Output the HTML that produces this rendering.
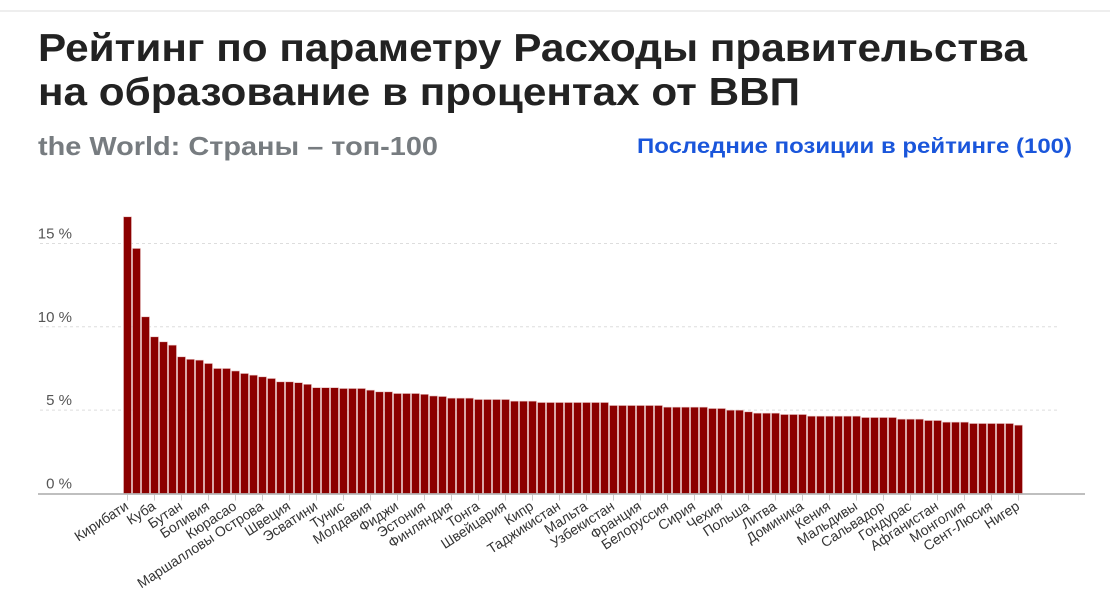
<!DOCTYPE html>
<html><head><meta charset="utf-8"><style>
html,body{margin:0;padding:0;background:#fff;}
svg{display:block;font-family:"Liberation Sans",sans-serif;}
</style></head><body>
<svg id="chart" width="1110" height="607" viewBox="0 0 1110 607">
<line x1="0" y1="11" x2="1110" y2="11" stroke="#eee" stroke-width="2"/>
<text x="38" y="61" font-size="39" font-weight="bold" fill="#222" textLength="989" lengthAdjust="spacingAndGlyphs">Рейтинг по параметру Расходы правительства</text>
<text x="38" y="105" font-size="39" font-weight="bold" fill="#222" textLength="762" lengthAdjust="spacingAndGlyphs">на образование в процентах от ВВП</text>
<text x="38" y="155" font-size="26" font-weight="bold" fill="#777c80" textLength="400" lengthAdjust="spacingAndGlyphs">the World: Страны – топ-100</text>
<text x="637" y="153" font-size="21" font-weight="bold" fill="#1a56db" textLength="435" lengthAdjust="spacingAndGlyphs">Последние позиции в рейтинге (100)</text>
<g id="grid"></g>
<g id="bars"></g>
<g id="xlabels"></g>
</svg>
<script>
const categories = ["Кирибати","","","Куба","","","Бутан","","","Боливия","","","Кюрасао","","","Маршалловы Острова","","","Швеция","","","Эсватини","","","Тунис","","","Молдавия","","","Фиджи","","","Эстония","","","Финляндия","","","Тонга","","","Швейцария","","","Кипр","","","Таджикистан","","","Мальта","","","Узбекистан","","","Франция","","","Белоруссия","","","Сирия","","","Чехия","","","Польша","","","Литва","","","Доминика","","","Кения","","","Мальдивы","","","Сальвадор","","","Гондурас","","","Афганистан","","","Монголия","","","Сент-Люсия","","","Нигер"];
const values = [16.6,14.7,10.6,9.4,9.1,8.9,8.2,8.05,8.0,7.8,7.5,7.5,7.35,7.2,7.1,7.0,6.9,6.7,6.7,6.65,6.55,6.35,6.35,6.35,6.3,6.3,6.3,6.2,6.1,6.1,6.0,6.0,6.0,5.95,5.85,5.82,5.72,5.72,5.72,5.64,5.64,5.64,5.64,5.54,5.54,5.54,5.46,5.46,5.46,5.46,5.46,5.46,5.46,5.46,5.28,5.28,5.28,5.28,5.28,5.28,5.18,5.18,5.18,5.18,5.18,5.1,5.1,5.0,5.0,4.9,4.82,4.82,4.82,4.74,4.74,4.74,4.64,4.64,4.64,4.64,4.64,4.64,4.56,4.56,4.56,4.56,4.46,4.46,4.46,4.38,4.38,4.28,4.28,4.28,4.2,4.2,4.2,4.2,4.2,4.1];
const yTicks = [0,5,10,15];
const yTickLabels = ["0 %","5 %","10 %","15 %"];
const NS="http://www.w3.org/2000/svg";
const x0=123, slot=9, baseY=493.5, pxPer=16.67;
function xScale(i){return x0+i*slot;}
function yScale(v){return baseY-v*pxPer;}
const grid=document.getElementById('grid'), bars=document.getElementById('bars'), xl=document.getElementById('xlabels');
yTicks.forEach((t,k)=>{
  const y=yScale(t);
  if(t>0){
    const l=document.createElementNS(NS,'line');
    l.setAttribute('x1',40);l.setAttribute('x2',1058);l.setAttribute('y1',y);l.setAttribute('y2',y);
    l.setAttribute('stroke','#ddd');l.setAttribute('stroke-dasharray','3,3');
    
    
    grid.appendChild(l);
  }
  const tx=document.createElementNS(NS,'text');
  tx.setAttribute('x',72);tx.setAttribute('y',y-5);tx.setAttribute('text-anchor','end');
  tx.setAttribute('font-size','15');tx.setAttribute('fill','#555');
  tx.textContent=yTickLabels[k];
  
  
  grid.appendChild(tx);
});
values.forEach((v,i)=>{
  const r=document.createElementNS(NS,'rect');
  r.setAttribute('x',xScale(i)+0.5);r.setAttribute('width',slot-1);
  r.setAttribute('y',yScale(v));r.setAttribute('height',baseY-yScale(v));
  r.setAttribute('fill','#8b0000');r.setAttribute('stroke','#e8c4c4');r.setAttribute('stroke-width','0.6');
  
  
  bars.appendChild(r);
});
const ax=document.createElementNS(NS,'line');
ax.setAttribute('x1',38);ax.setAttribute('x2',1085);ax.setAttribute('y1',baseY+0.5);ax.setAttribute('y2',baseY+0.5);
ax.setAttribute('stroke','#aaa');ax.setAttribute('stroke-width','1.5');


xl.appendChild(ax);
categories.forEach((c,i)=>{
  if(!c) return;
  const cx=xScale(i)+slot/2;
  const tk=document.createElementNS(NS,'line');
  tk.setAttribute('x1',cx);tk.setAttribute('x2',cx);tk.setAttribute('y1',baseY+1);tk.setAttribute('y2',baseY+7);
  tk.setAttribute('stroke','#ccc');
  
  
  xl.appendChild(tk);
  const t=document.createElementNS(NS,'text');
  t.setAttribute('transform','translate('+(cx+2)+','+(baseY+15)+') rotate(-33)');
  t.setAttribute('text-anchor','end');t.setAttribute('font-size','14');t.setAttribute('fill','#333');
  t.textContent=c;
  
  
  xl.appendChild(t);
});
</script>
</body></html>
